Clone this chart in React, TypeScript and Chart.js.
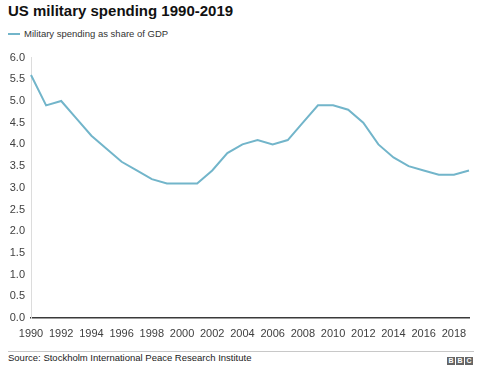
import React, { useEffect, useRef } from "react";
import { Chart, registerables } from "chart.js";

Chart.register(...registerables);

const years: string[] = [
  "1990","1991","1992","1993","1994","1995","1996","1997","1998","1999",
  "2000","2001","2002","2003","2004","2005","2006","2007","2008","2009",
  "2010","2011","2012","2013","2014","2015","2016","2017","2018","2019",
];
const spending: number[] = [
  5.6, 4.9, 5.0, 4.6, 4.2, 3.9, 3.6, 3.4, 3.2, 3.1,
  3.1, 3.1, 3.4, 3.8, 4.0, 4.1, 4.0, 4.1, 4.5, 4.9,
  4.9, 4.8, 4.5, 4.0, 3.7, 3.5, 3.4, 3.3, 3.3, 3.4,
];
const seriesLabel = "Military spending as share of GDP";
const titleText = "US military spending 1990-2019";
const sourceText = "Source: Stockholm International Peace Research Institute";

const LINE = "#72b5ca";
const FONT = "'Liberation Sans', Arial, Helvetica, sans-serif";

export default function App() {
  const ref = useRef<HTMLCanvasElement | null>(null);
  useEffect(() => {
    if (!ref.current) return;
    const chart = new Chart(ref.current, {
      type: "line",
      data: {
        labels: years,
        datasets: [
          {
            label: seriesLabel,
            data: spending,
            borderColor: LINE,
            borderWidth: 2,
            pointRadius: 0,
            tension: 0,
            fill: false,
          },
        ],
      },
      options: {
        animation: false,
        responsive: false,
        maintainAspectRatio: false,
        layout: { padding: { left: 0, right: 21, top: 11, bottom: 0 } },
        plugins: { legend: { display: false }, tooltip: { enabled: false } },
        scales: {
          x: {
            type: "category",
            offset: false,
            grid: { display: false, drawTicks: false },
            border: { display: true, color: "#3a3a3a", width: 1.5 },
            ticks: {
              autoSkip: false,
              maxRotation: 0,
              padding: 9,
              color: "#404040",
              font: { family: FONT, size: 11 },
              callback: (_v: any, i: number) => (i % 2 === 0 ? years[i] : ""),
            },
            afterFit: (s: any) => {
              s.height = 27;
            },
          },
          y: {
            min: 0,
            max: 6,
            grid: { display: false, drawTicks: false },
            border: { display: true, color: "#dcdcdc", width: 1 },
            ticks: {
              stepSize: 0.5,
              padding: 6,
              color: "#404040",
              font: { family: FONT, size: 11 },
              callback: (v: any) => Number(v).toFixed(1),
            },
            afterFit: (s: any) => {
              s.width = 31;
            },
          },
        },
      },
    });
    return () => chart.destroy();
  }, []);

  return (
    <div
      style={{
        position: "fixed",
        left: 0,
        top: 0,
        width: 490,
        height: 370,
        background: "#fff",
        fontFamily: FONT,
        overflow: "hidden",
      }}
    >
      <div
        style={{
          position: "absolute",
          left: 8,
          top: 2,
          fontSize: 15,
          lineHeight: "18px",
          fontWeight: "bold",
          color: "#111",
          whiteSpace: "nowrap",
        }}
      >
        {titleText}
      </div>
      <div
        style={{
          position: "absolute",
          left: 8,
          top: 28,
          fontSize: 9.5,
          lineHeight: "12px",
          color: "#333",
          display: "flex",
          alignItems: "center",
          whiteSpace: "nowrap",
        }}
      >
        <span
          style={{
            display: "inline-block",
            width: 12,
            height: 2,
            background: LINE,
            marginRight: 4,
          }}
        />
        {seriesLabel}
      </div>
      <canvas
        ref={ref}
        width={490}
        height={300}
        style={{ position: "absolute", left: 0, top: 45, width: 490, height: 300 }}
      />
      <div
        style={{
          position: "absolute",
          left: 8,
          top: 351,
          width: 466,
          height: 1,
          background: "#c8c8c8",
        }}
      />
      <div
        style={{
          position: "absolute",
          left: 8,
          top: 352,
          fontSize: 9.5,
          lineHeight: "12px",
          color: "#222",
          whiteSpace: "nowrap",
        }}
      >
        {sourceText}
      </div>
      <div
        style={{
          position: "absolute",
          left: 447,
          top: 357,
          display: "flex",
          gap: 1,
        }}
      >
        {["B", "B", "C"].map((c, i) => (
          <span
            key={i}
            style={{
              display: "inline-block",
              width: 8,
              height: 8,
              background: "#666",
              color: "#fff",
              fontSize: 7,
              fontWeight: "bold",
              lineHeight: "8px",
              textAlign: "center",
            }}
          >
            {c}
          </span>
        ))}
      </div>
    </div>
  );
}
